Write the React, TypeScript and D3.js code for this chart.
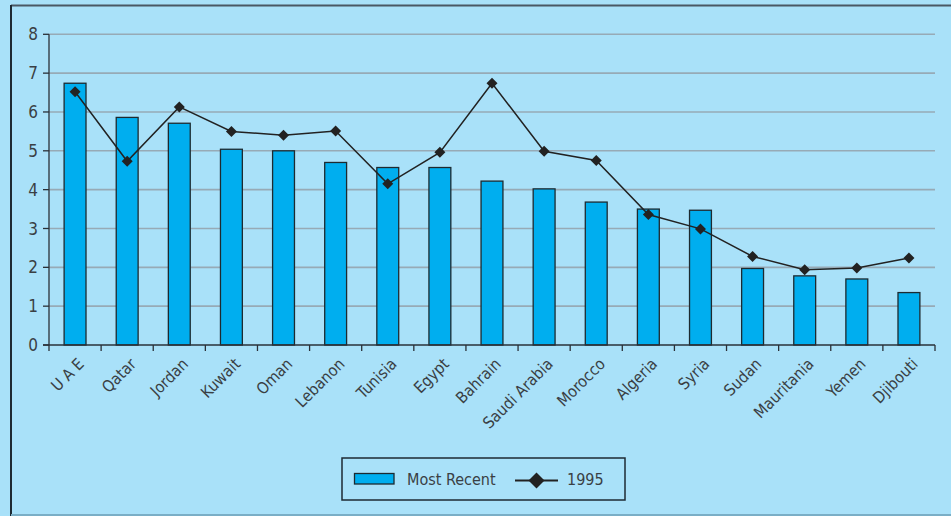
import React from "react";
import * as d3 from "d3";

const categories = ["U A E", "Qatar", "Jordan", "Kuwait", "Oman", "Lebanon", "Tunisia", "Egypt", "Bahrain", "Saudi Arabia", "Morocco", "Algeria", "Syria", "Sudan", "Mauritania", "Yemen", "Djibouti"];
const mostRecent = [6.74, 5.86, 5.71, 5.04, 5.0, 4.7, 4.57, 4.57, 4.22, 4.02, 3.68, 3.5, 3.47, 1.97, 1.78, 1.7, 1.35];
const y1995 = [6.52, 4.73, 6.13, 5.5, 5.4, 5.51, 4.15, 4.96, 6.74, 4.99, 4.75, 3.36, 2.99, 2.28, 1.94, 1.98, 2.24];
const yTicks = [0, 1, 2, 3, 4, 5, 6, 7, 8];
const legendLabels = ["Most Recent", "1995"];

const W = 951, H = 516;
const M = { left: 49, right: 935, top: 34.3, bottom: 345 };
const BG = "#a9e1f9";
const BAR = "#00aeef";
const TXT = "#3a3f44";
const FONT = "'Liberation Sans Narrow', 'DejaVu Sans Condensed', 'Roboto Condensed', sans-serif";

export default function App() {
  const x = d3.scaleBand<string>().domain(categories).range([M.left, M.right]).paddingInner(0.58).paddingOuter(0.29);
  const xc = d3.scaleBand<string>().domain(categories).range([M.left, M.right]);
  const y = d3.scaleLinear().domain([0, 8]).range([M.bottom, M.top]);
  const line = d3.line<number>().x((_, i) => xc(categories[i])! + xc.bandwidth() / 2).y((d) => y(d));
  const diamond = (cx: number, cy: number, r: number) => `M${cx},${cy - r}L${cx + r},${cy}L${cx},${cy + r}L${cx - r},${cy}Z`;
  const tickXs = d3.range(categories.length + 1).map((i) => M.left + i * xc.step());

  return (
    <div style={{ position: "fixed", left: 0, top: 0 }}>
      <svg width={W} height={H} style={{ display: "block", fontFamily: FONT }}>
        <rect x={0} y={0} width={W} height={H} fill={BG} />
        {/* outer frame */}
        <line x1={11} y1={5.5} x2={W} y2={5.5} stroke="#4a5864" strokeWidth={2} />
        <line x1={11} y1={5} x2={11} y2={H} stroke="#1e2a33" strokeWidth={2} />
        <line x1={11} y1={515} x2={W} y2={515} stroke="#7aaec6" strokeWidth={2} />
        {/* gridlines */}
        {yTicks.filter((t) => t > 0).map((t) => (
          <line key={t} x1={M.left} x2={M.right} y1={y(t)} y2={y(t)} stroke="#97aab6" strokeWidth={1.6} />
        ))}
        {/* bars */}
        {categories.map((c, i) => (
          <rect key={c} x={x(c)!} y={y(mostRecent[i])} width={x.bandwidth()} height={y(0) - y(mostRecent[i])} fill={BAR} stroke="#1d2a30" strokeWidth={1.3} />
        ))}
        {/* axes */}
        <line x1={M.left} x2={M.left} y1={M.top} y2={M.bottom} stroke="#2a3038" strokeWidth={1.3} />
        {yTicks.map((t) => (
          <g key={t}>
            <line x1={M.left - 6} x2={M.left} y1={y(t)} y2={y(t)} stroke="#2a3038" strokeWidth={1.3} />
            <text x={38} y={y(t)} dy="0.36em" textAnchor="end" fontSize={17} fill={TXT}>{t}</text>
          </g>
        ))}
        <line x1={M.left - 6} x2={M.right} y1={M.bottom} y2={M.bottom} stroke="#2a3038" strokeWidth={1.3} />
        {tickXs.map((tx, i) => (
          <line key={i} x1={tx} x2={tx} y1={M.bottom} y2={M.bottom + 6} stroke="#2a3038" strokeWidth={1.3} />
        ))}
        {categories.map((c) => {
          const cx = xc(c)! + xc.bandwidth() / 2 + 10;
          const cy = M.bottom + 20;
          return (
            <text key={c} x={cx} y={cy} textAnchor="end" fontSize={16} fill={TXT} transform={`rotate(-45 ${cx} ${cy})`}>{c}</text>
          );
        })}
        {/* line series */}
        <path d={line(y1995)!} fill="none" stroke="#222" strokeWidth={1.5} />
        {y1995.map((v, i) => (
          <path key={i} d={diamond(xc(categories[i])! + xc.bandwidth() / 2, y(v), 5.5)} fill="#222" />
        ))}
        {/* legend */}
        <rect x={342} y={458} width={283} height={42} fill="none" stroke="#1e2a33" strokeWidth={1.5} />
        <rect x={354.5} y={473.5} width={39.5} height={10.5} fill={BAR} stroke="#1d2a30" strokeWidth={1.3} />
        <text x={407} y={485} fontSize={16} fill={TXT}>{legendLabels[0]}</text>
        <line x1={515} x2={558} y1={480.5} y2={480.5} stroke="#222" strokeWidth={2} />
        <path d={diamond(536.5, 480.5, 8)} fill="#222" />
        <text x={567} y={485} fontSize={16} fill={TXT}>{legendLabels[1]}</text>
      </svg>
    </div>
  );
}
